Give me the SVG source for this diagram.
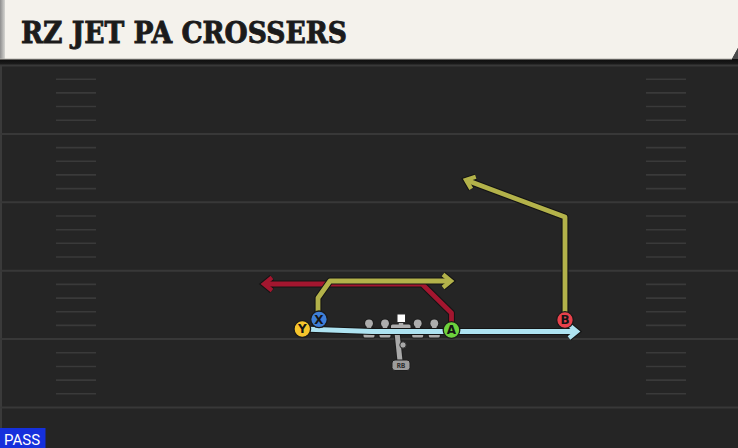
<svg xmlns="http://www.w3.org/2000/svg" width="738" height="448" viewBox="0 0 738 448">
<defs>
<style>
.yard{stroke:#383838;stroke-width:2;fill:none}
.hash{stroke:#3a3a3a;stroke-width:1.6;fill:none}
.route-o{fill:none;stroke:#141414;stroke-width:7;stroke-linejoin:round}
.route{fill:none;stroke-width:4.8;stroke-linejoin:round}
.red{stroke:#a3162f}
.olive{stroke:#b3b24a}
.cyan{stroke:#aee3f1}
.player circle{stroke:#1a1a1a;stroke-width:1.3}
.player text{font-family:"DejaVu Sans","Liberation Sans",sans-serif;font-weight:bold;font-size:12px;fill:#151515;text-anchor:middle}
.ol{fill:#a8a8a8;stroke:#2a2a2a;stroke-width:1}
.sil-o{fill:#1e1e1e;stroke:#1e1e1e;stroke-width:2}
.sil{fill:#adadad}
.title{font-family:"DejaVu Serif",serif;font-weight:bold;font-size:29.5px;fill:#1b1b1b;stroke:#1b1b1b;stroke-width:0.9;stroke-linejoin:miter}
</style>
<symbol id="lineman" overflow="visible">
<g class="sil-o"><rect x="-5.5" y="-3" width="11" height="9.5" rx="1.5"/><rect x="-2.2" y="-7" width="4.4" height="5"/><circle cx="0" cy="-7.7" r="3.9"/></g>
<g class="sil"><rect x="-5.5" y="-3" width="11" height="9.5" rx="1.5"/><rect x="-2.2" y="-7" width="4.4" height="5"/><circle cx="0" cy="-7.7" r="3.9"/></g>
</symbol>
<marker id="arr-red" markerUnits="userSpaceOnUse" orient="auto" markerWidth="24" markerHeight="24" viewBox="-12 -12 24 24" refX="0" refY="0" overflow="visible">
<polyline points="-8,-6.5 0,0 -8,6.5" fill="none" stroke="#141414" stroke-width="6.5"/>
<polyline points="-8,-6.5 0,0 -8,6.5" fill="none" stroke="#a3162f" stroke-width="4.3"/>
</marker>
<marker id="arr-olive" markerUnits="userSpaceOnUse" orient="auto" markerWidth="24" markerHeight="24" viewBox="-12 -12 24 24" refX="0" refY="0" overflow="visible">
<polyline points="-8,-6.5 0,0 -8,6.5" fill="none" stroke="#141414" stroke-width="6.5"/>
<polyline points="-8,-6.5 0,0 -8,6.5" fill="none" stroke="#b3b24a" stroke-width="4.3"/>
</marker>
<marker id="arr-cyan" markerUnits="userSpaceOnUse" orient="auto" markerWidth="24" markerHeight="24" viewBox="-12 -12 24 24" refX="0" refY="0" overflow="visible">
<polyline points="-8,-6.5 0,0 -8,6.5" fill="none" stroke="#141414" stroke-width="6.5"/>
<polyline points="-8,-6.5 0,0 -8,6.5" fill="none" stroke="#aee3f1" stroke-width="4.3"/>
</marker>
<linearGradient id="shadow" x1="0" y1="0" x2="0" y2="1">
<stop offset="0" stop-color="#0c0c0c"/>
<stop offset="1" stop-color="#1e1e1e"/>
</linearGradient>
<linearGradient id="edge" x1="0" y1="0" x2="1" y2="0">
<stop offset="0" stop-color="#8e8e8e"/>
<stop offset="1" stop-color="#d6d6d2"/>
</linearGradient>
</defs>

<g id="field">
<rect x="0" y="0" width="738" height="448" fill="#252525"/>
<rect x="0" y="59" width="2" height="389" fill="#3a3a3a"/>
<rect x="0" y="59" width="738" height="6" fill="url(#shadow)"/>
<path class="yard" d="M0,65.5H738M0,133.9H738M0,202.3H738M0,270.7H738M0,339.1H738M0,407.5H738"/>
<path class="hash" d="M56,79.2H96M56,92.9H96M56,106.5H96M56,120.2H96M56,147.6H96M56,161.3H96M56,174.9H96M56,188.6H96M56,216H96M56,229.7H96M56,243.3H96M56,257H96M56,284.4H96M56,298.1H96M56,311.7H96M56,325.4H96M56,352.8H96M56,366.5H96M56,380.1H96M56,393.8H96
M646,79.2H686M646,92.9H686M646,106.5H686M646,120.2H686M646,147.6H686M646,161.3H686M646,174.9H686M646,188.6H686M646,216H686M646,229.7H686M646,243.3H686M646,257H686M646,284.4H686M646,298.1H686M646,311.7H686M646,325.4H686M646,352.8H686M646,366.5H686M646,380.1H686M646,393.8H686"/>
</g>

<g id="header">
<path d="M0,0H738V48L732,59H0Z" fill="#f4f2ec"/>
<path d="M738,48V59H732Z" fill="#4a4a4a"/>
<rect x="0" y="0" width="5" height="59" fill="url(#edge)"/>
<line x1="0" y1="59" x2="732" y2="59" stroke="#b8b6b0" stroke-width="1"/>
<text class="title" x="21" y="43" textLength="326" lengthAdjust="spacingAndGlyphs">RZ JET PA CROSSERS</text>
</g>

<g id="line">
<g id="rb">
<line x1="397" y1="332" x2="400" y2="361" stroke="#1e1e1e" stroke-width="7"/>
<line x1="397" y1="332" x2="400" y2="361" stroke="#a9a9a9" stroke-width="5"/>
<circle cx="403" cy="345" r="3.2" class="ol"/>
<rect x="392" y="360" width="18" height="10.5" rx="3" fill="#9c9c9c" stroke="#1e1e1e" stroke-width="1"/>
<text x="401" y="368.3" text-anchor="middle" font-family="DejaVu Sans Mono,monospace" font-size="7" font-weight="bold" fill="#2a2a2a">RB</text>
</g>
<g id="lt"><use href="#lineman" x="369" y="331"/></g>
<g id="lg"><use href="#lineman" x="385" y="331"/></g>
<g id="c">
<rect x="390" y="323.5" width="21.5" height="11" rx="2" fill="#1e1e1e"/>
<rect x="391" y="324.5" width="19.5" height="9" rx="1.5" fill="#adadad"/>
<rect x="398.8" y="321" width="4.4" height="5" fill="#adadad"/>
<rect x="397" y="314" width="8.5" height="8.5" fill="#ffffff" stroke="#2a2a2a" stroke-width="1"/>
</g>
<g id="rg"><use href="#lineman" x="417.7" y="331"/></g>
<g id="rt"><use href="#lineman" x="434.3" y="331"/></g>
</g>

<g id="routes">
<path class="route-o" d="M451.5,330V313L422,284H264" marker-end="url(#arr-red)"/>
<path class="route red" d="M451.5,330V313L422,284H264"/>
<path class="route-o" d="M318,319V298L330,281H451" marker-end="url(#arr-olive)"/>
<path class="route olive" d="M318,319V298L330,281H451"/>
<path class="route-o" d="M565,320V217L466,180" marker-end="url(#arr-olive)"/>
<path class="route olive" d="M565,320V217L466,180"/>
<path class="route-o" d="M302,329L372,331.5H577" marker-end="url(#arr-cyan)"/>
<path class="route cyan" d="M302,329L372,331.5H577"/>
</g>

<g id="player-Y" class="player"><circle cx="302.3" cy="329" r="8.3" fill="#f6c52c"/><text x="302.3" y="333.3">Y</text></g>
<g id="player-X" class="player"><circle cx="319" cy="319.3" r="8.3" fill="#3e7fd8"/><text x="319" y="323.6">X</text></g>
<g id="player-A" class="player"><circle cx="451.5" cy="330" r="8.3" fill="#6dd23d"/><text x="451.5" y="334.3">A</text></g>
<g id="player-B" class="player"><circle cx="565" cy="320" r="8.3" fill="#e8414b"/><text x="565" y="324.3">B</text></g>

<g id="badge">
<rect x="0" y="428" width="45.5" height="20" fill="#1530dc"/>
<text x="4" y="445" font-family="Roboto,'Liberation Sans',sans-serif" font-size="15" fill="#ffffff">PASS</text>
</g>
</svg>
